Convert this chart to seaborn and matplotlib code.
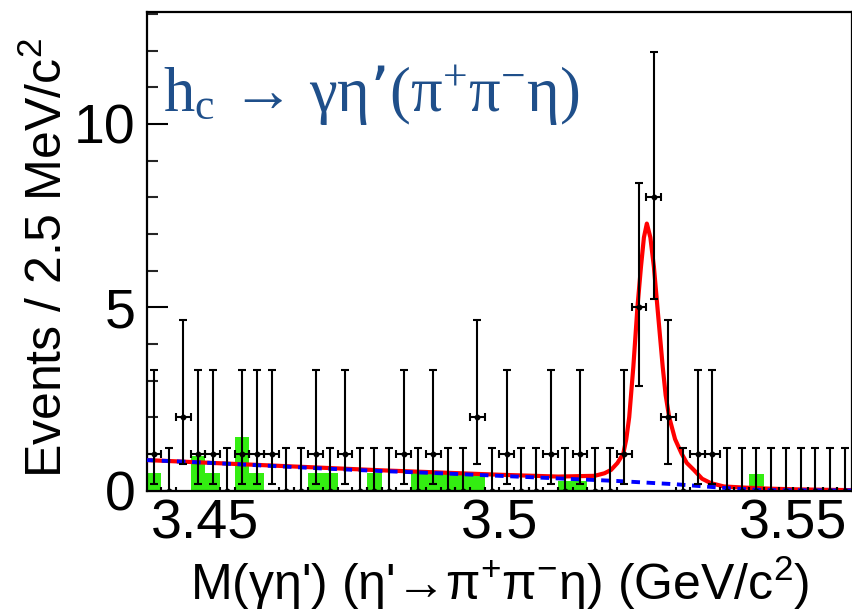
import numpy as np
import pandas as pd
import matplotlib
matplotlib.use("Agg")
import matplotlib.pyplot as plt
from matplotlib.ticker import MultipleLocator, FixedLocator
import seaborn as sns

# ---------------- data ----------------
bin_start = 3.44
bin_width = 0.0025
n_bins = 48

counts = [1, 0, 2, 1, 1, 0, 1, 1, 1, 0, 0, 1, 0, 1, 0, 0, 0,
          1, 0, 1, 0, 0, 2, 0, 1, 0, 0, 1, 0, 1, 0, 0, 1,
          5, 8, 2, 0, 1, 1, 0, 0, 0, 0, 0, 0, 0, 0, 0]

err_low = [0.83, 0, 1.29, 0.83, 0.83, 0, 0.83, 0.83, 0.83, 0, 0, 0.83, 0, 0.83, 0, 0, 0,
           0.83, 0, 0.83, 0, 0, 1.29, 0, 0.83, 0, 0, 0.83, 0, 0.83, 0, 0, 0.83,
           2.16, 2.77, 1.29, 0, 0.83, 0.83, 0, 0, 0, 0, 0, 0, 0, 0, 0]

err_high = [2.30, 1.15, 2.64, 2.30, 2.30, 1.15, 2.30, 2.30, 2.30, 1.15, 1.15, 2.30, 1.15, 2.30, 1.15, 1.15, 1.15,
            2.30, 1.15, 2.30, 1.15, 1.15, 2.64, 1.15, 2.30, 1.15, 1.15, 2.30, 1.15, 2.30, 1.15, 1.15, 2.30,
            3.38, 3.96, 2.64, 1.15, 2.30, 2.30, 1.15, 1.15, 1.15, 1.15, 1.15, 1.15, 1.15, 1.15, 1.15]

# green (background / sideband) histogram
green_vals = [0.47, 0, 0, 0.95, 0.47, 0, 1.45, 0.47, 0, 0, 0, 0.47, 0.47, 0, 0, 0.47, 0,
              0, 0.47, 0.47, 0.47, 0.47, 0.47, 0, 0, 0, 0, 0, 0.26, 0.26, 0, 0, 0,
              0, 0, 0, 0, 0, 0, 0, 0, 0.45, 0, 0, 0, 0, 0, 0]

# total fit (red)
fit_x = [3.4400, 3.4500, 3.4600, 3.4700, 3.4800, 3.4900, 3.5000, 3.5100,
         3.5162, 3.5179, 3.5190, 3.5201, 3.5211, 3.5216, 3.5221, 3.5228,
         3.5235, 3.5241, 3.5246, 3.5251, 3.5257, 3.5263, 3.5269, 3.5278,
         3.5283, 3.5289, 3.5299, 3.5310, 3.5319, 3.5331, 3.5345, 3.5360,
         3.5382, 3.5416, 3.5459, 3.5510, 3.5600]
fit_y = [0.83, 0.76, 0.69, 0.62, 0.55, 0.49, 0.43, 0.38,
         0.40, 0.47, 0.56, 0.75, 1.01, 1.40, 2.00, 3.37,
         5.00, 6.10, 6.90, 7.28, 6.90, 6.10, 5.00, 3.37,
         2.60, 2.00, 1.40, 1.01, 0.75, 0.56, 0.32, 0.20,
         0.11, 0.08, 0.05, 0.03, 0.01]

# background component (blue dashed)
bkg_x = [3.440, 3.450, 3.460, 3.470, 3.480, 3.490, 3.500, 3.510,
         3.520, 3.530, 3.535, 3.540, 3.545, 3.560]
bkg_y = [0.83, 0.76, 0.68, 0.60, 0.53, 0.47, 0.40, 0.33,
         0.26, 0.17, 0.11, 0.05, 0.01, 0.0]

x_ticks = [3.45, 3.50, 3.55]
x_tick_labels = ["3.45", "3.5", "3.55"]
y_ticks = [0, 5, 10]

# ---------------- style ----------------
sns.set_theme(style="ticks")
plt.rcParams["font.family"] = ["Liberation Sans", "DejaVu Sans"]
plt.rcParams["mathtext.default"] = "regular"

W, H = 853, 613
fig = plt.figure(figsize=(W / 100, H / 100), dpi=100)
ax_left, ax_right, ax_top, ax_bottom = 146.6, 852.0, 12.0, 490.5
ax_w, ax_h = ax_right - ax_left, ax_bottom - ax_top
ax = fig.add_axes([ax_left / W, 1 - ax_bottom / H, ax_w / W, ax_h / H])

edges = bin_start + bin_width * np.arange(n_bins + 1)
centers = 0.5 * (edges[:-1] + edges[1:])

hist_df = pd.DataFrame({"m": centers, "w": green_vals})
sns.histplot(data=hist_df, x="m", weights="w", bins=n_bins,
             binrange=(edges[0], edges[-1]), element="bars",
             color="#33ee11", alpha=1.0, linewidth=0, ax=ax, zorder=1)

sns.lineplot(x=fit_x, y=fit_y, color="#ff0000", linewidth=3.0, sort=False,
             estimator=None, ax=ax, zorder=3)
sns.lineplot(x=bkg_x, y=bkg_y, color="#0000ff", linewidth=2.8, sort=False,
             estimator=None, ax=ax, zorder=4, linestyle=(0, (2.2, 1.7)))

ax.errorbar(centers, counts, yerr=[err_low, err_high], xerr=bin_width / 2,
            fmt="o", ms=3.2, color="black", ecolor="black", elinewidth=1.5,
            capsize=2.8, capthick=1.5, zorder=5)

ax.set_xlim(3.44, 3.56)
ax.set_ylim(0, 13.05)

ax.xaxis.set_major_locator(FixedLocator(x_ticks))
ax.set_xticklabels(x_tick_labels)
ax.yaxis.set_major_locator(FixedLocator(y_ticks))
ax.yaxis.set_minor_locator(MultipleLocator(1))
ax.tick_params(axis="y", which="major", direction="in", length=15, width=1.5,
               labelsize=40, pad=8, colors="black")
ax.tick_params(axis="y", which="minor", direction="in", length=8, width=1.5)
ax.tick_params(axis="x", which="major", length=0, labelsize=40, pad=6,
               colors="black")
ax.tick_params(axis="x", which="minor", length=0)

for s in ax.spines.values():
    s.set_color("black")
    s.set_linewidth(1.6)
    s.set_visible(True)

ax.set_xlabel(r"M($\gamma\eta$') ($\eta$'→$\pi^{+}\pi^{-}\eta$) (GeV/c$^{2}$)",
              fontsize=36, color="black")
ax.xaxis.set_label_coords(0.5, (ax_bottom - 600) / ax_h)
ax.xaxis.label.set_va("baseline")

ax.set_ylabel(r"Events / 2.5 MeV/c$^{2}$", fontsize=36, color="black")
ax.yaxis.set_label_coords((72 - ax_left) / ax_w, (ax_bottom - 258) / ax_h)

fig.text(163 / W, 1 - 112 / H, "h$_{c}$ → γη’(π$^{+}$π$^{-}$η)",
         fontsize=45, family=["Liberation Serif", "DejaVu Serif"],
         color="#1f4f8a", ha="left", va="baseline")

fig.savefig("out.png", dpi=100)
